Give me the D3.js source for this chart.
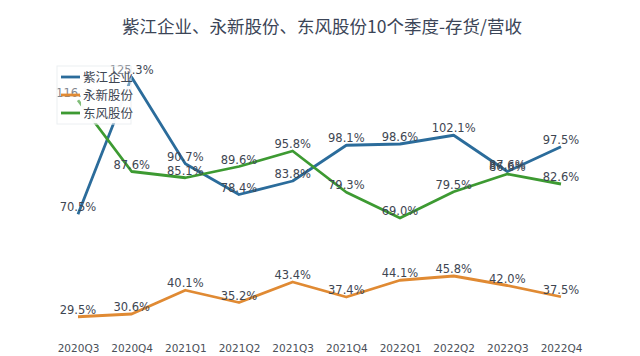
<!DOCTYPE html>
<html><head><meta charset="utf-8">
<script src="https://cdn.jsdelivr.net/npm/d3@7"></script>
<style>
html,body{margin:0;padding:0;background:#fff;}
svg{display:block;}
</style></head>
<body>
<svg id="c" width="640" height="356"></svg>
<script>
const title = "紫江企业、永新股份、东风股份10个季度-存货/营收";
const quarters = ["2020Q3","2020Q4","2021Q1","2021Q2","2021Q3","2021Q4","2022Q1","2022Q2","2022Q3","2022Q4"];
const seriesNames = ["紫江企业","永新股份","东风股份"];
const zijiang = [70.5,125.3,90.7,78.4,83.8,98.1,98.6,102.1,87.6,97.5];
const yongxin = [29.5,30.6,40.1,35.2,43.4,37.4,44.1,45.8,42.0,37.5];
const dongfeng = [116.1,87.6,85.1,89.6,95.8,79.3,69.0,79.5,86.6,82.6];
const colors = ["#2b6c9b","#e08a33","#3d9a32"];

const svg = d3.select("#c");
const x = d3.scalePoint().domain(quarters).range([78,561]);
const y = d3.scaleLinear().domain([0,100]).range([390.5,140.5]);

svg.append("text").attr("x",322).attr("y",33).attr("text-anchor","middle")
  .attr("font-family","'Noto Sans CJK SC', sans-serif").attr("font-size",17.5)
  .attr("fill","#3b4557").text(title);

const xAxis = d3.axisBottom(x).tickSize(0).tickPadding(0);
const gx = svg.append("g").attr("transform","translate(0,344.5)").call(xAxis);
gx.select(".domain").remove();
gx.selectAll("text").attr("font-family","'DejaVu Sans', Verdana, sans-serif")
  .attr("font-size",10.5).attr("fill","#4a4f58");

const data = [zijiang, yongxin, dongfeng];
const line = d3.line().x((d,i)=>x(quarters[i])).y(d=>y(d));
data.forEach((vals,si)=>{
  svg.append("path").datum(vals).attr("d",line).attr("fill","none")
    .attr("stroke",colors[si]).attr("stroke-width",2.8).attr("stroke-linejoin","round");
});

const lbl = svg.append("g");
data.forEach((vals,si)=>{
  vals.forEach((v,i)=>{
    lbl.append("text").attr("x",x(quarters[i])).attr("y",y(v)-3)
      .attr("text-anchor","middle").attr("font-family","'DejaVu Sans', Verdana, sans-serif")
      .attr("font-size",11.5).attr("fill","#3e4652").text(v.toFixed(1)+"%");
  });
});

// legend (on top, translucent box; text rows 2-3 on an opaque strip)
const lg = svg.append("g");
lg.append("rect").attr("x",57).attr("y",66).attr("width",74).attr("height",58)
  .attr("fill","#fff").attr("fill-opacity",0.35).attr("stroke","#eceff2");
lg.append("rect").attr("x",81).attr("y",86).attr("width",49).attr("height",37)
  .attr("fill","#fff").attr("fill-opacity",0.95);
seriesNames.forEach((n,i)=>{
  const yy = 77 + i*18;
  lg.append("line").attr("x1",61).attr("x2",80).attr("y1",yy).attr("y2",yy)
    .attr("stroke",colors[i]).attr("stroke-width",2.8);
  lg.append("text").attr("x",83).attr("y",yy+4.5)
    .attr("font-family","'Noto Sans CJK SC', sans-serif").attr("font-size",12.5)
    .attr("fill","#3e4652").text(n);
});
</script>
</body></html>
